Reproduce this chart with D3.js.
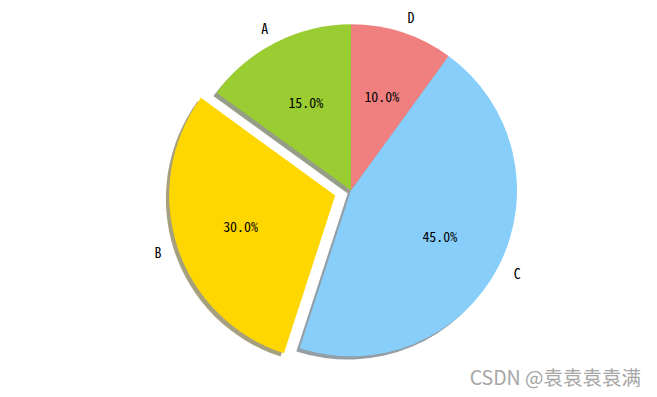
<!DOCTYPE html>
<html><head><meta charset="utf-8">
<script src="https://cdn.jsdelivr.net/npm/d3@7"></script>
<style>body{margin:0;background:#fff;}svg{display:block;}</style>
</head><body>
<script>
const labels = ["A", "B", "C", "D"];
const sizes = [15, 30, 45, 10];
const colors = ["#9ACD32", "#FFD700", "#87CEFA", "#F08080"];
const explode = [0, 0.1, 0, 0];

const W = 657, H = 397;
const cx = 351, cy = 190.3, R = 166;
const svg = d3.select("body").append("svg").attr("width", W).attr("height", H);
const g = svg.append("g").attr("transform", `translate(${cx},${cy})`);

const pie = d3.pie().sort(null).value(d => d.v).startAngle(0).endAngle(-2 * Math.PI);
const data = pie(labels.map((l, i) => ({l, v: sizes[i], c: colors[i], e: explode[i]})));
const arc = d3.arc().innerRadius(0).outerRadius(R);
const mid = d => (d.startAngle + d.endAngle) / 2;
const off = d => [Math.sin(mid(d)) * d.data.e * R, -Math.cos(mid(d)) * d.data.e * R];

const fontFam = "'Noto Sans Mono CJK SC','Noto Sans CJK SC','DejaVu Sans Mono',monospace";

// shadows
g.selectAll("path.shadow").data(data).enter().append("path")
  .attr("class", "shadow")
  .attr("d", arc)
  .attr("transform", d => { const o = off(d); return `translate(${o[0] - 0.02 * R},${o[1] + 0.02 * R})`; })
  .attr("fill", d => { const c = d3.rgb(d.data.c); return d3.rgb(c.r * 0.3, c.g * 0.3, c.b * 0.3); })
  .attr("fill-opacity", 0.5);

// wedges
g.selectAll("path.wedge").data(data).enter().append("path")
  .attr("class", "wedge")
  .attr("d", arc)
  .attr("transform", d => { const o = off(d); return `translate(${o[0]},${o[1]})`; })
  .attr("fill", d => d.data.c);

// labels
g.selectAll("text.lab").data(data).enter().append("text")
  .attr("class", "lab")
  .attr("x", d => off(d)[0] + 1.1 * R * Math.sin(mid(d)))
  .attr("y", d => off(d)[1] - 1.1 * R * Math.cos(mid(d)))
  .attr("text-anchor", d => Math.sin(mid(d)) < 0 ? "end" : "start")
  .attr("dominant-baseline", "central")
  .attr("font-family", fontFam).attr("font-size", "13.9px").attr("fill", "#000")
  .text(d => d.data.l);

// percentages
const total = d3.sum(sizes);
g.selectAll("text.pct").data(data).enter().append("text")
  .attr("class", "pct")
  .attr("x", d => off(d)[0] + 0.6 * R * Math.sin(mid(d)))
  .attr("y", d => off(d)[1] - 0.6 * R * Math.cos(mid(d)))
  .attr("text-anchor", "middle")
  .attr("dominant-baseline", "central")
  .attr("font-family", fontFam).attr("font-size", "13.9px").attr("fill", "#000")
  .text(d => (d.data.v / total * 100).toFixed(1) + "%");

// watermark
svg.append("text")
  .attr("x", 641).attr("y", 385)
  .attr("text-anchor", "end")
  .attr("font-family", "'Noto Sans CJK SC', sans-serif")
  .attr("font-size", "19.5px")
  .attr("fill", "#a6a6a6")
  .text("CSDN @袁袁袁袁满");
</script>
</body></html>
